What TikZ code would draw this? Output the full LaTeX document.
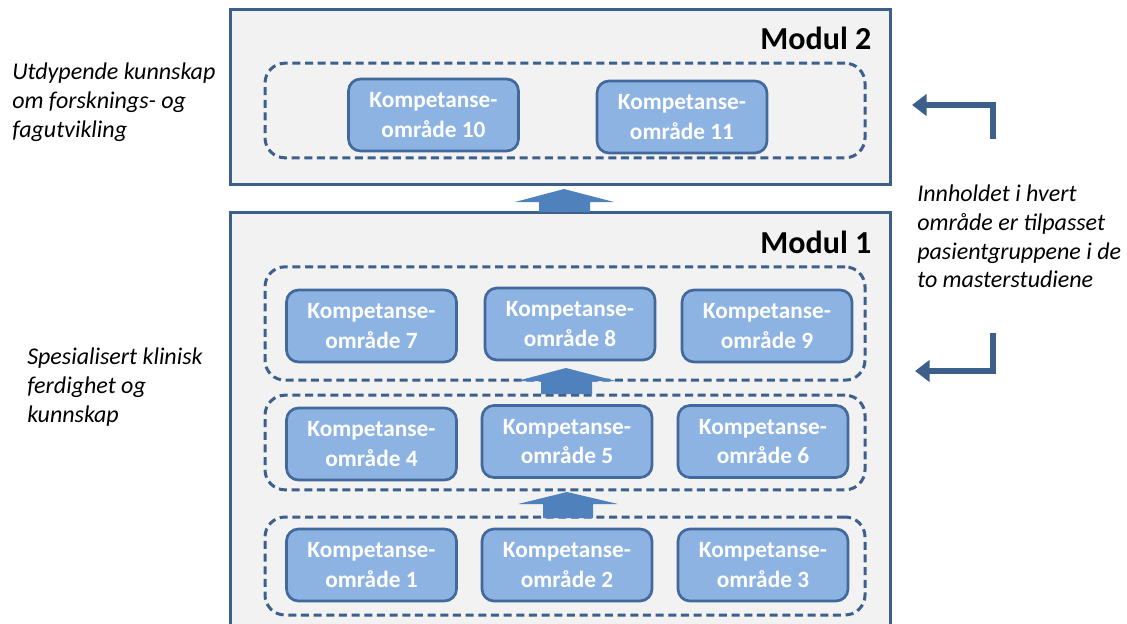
\documentclass[tikz,border=0pt]{standalone}
\usepackage{fontspec}
\setmainfont{Carlito}
\usetikzlibrary{arrows.meta}

\definecolor{ramme}{HTML}{3C5F8C}
\definecolor{feltblaa}{HTML}{8DB3E2}
\definecolor{kant}{HTML}{41699C}
\definecolor{pilblaa}{HTML}{4F81BD}
\definecolor{graa}{HTML}{F2F2F2}

\begin{document}
\begin{tikzpicture}[x=0.75pt, y=-0.75pt]
\tikzset{modul/.style = {rectangle, draw=ramme, line width=2.25pt, fill=graa, minimum width=495pt, inner sep=0pt},
  rad/.style = {rectangle, rounded corners=15pt, draw=ramme, line width=2.25pt, dash pattern=on 6pt off 3.5pt, minimum width=450pt, inner sep=0pt},
  omr/.style = {rectangle, rounded corners=9pt, draw=kant, line width=2pt, fill=feltblaa, minimum width=127.5pt, minimum height=54pt, inner sep=0pt, align=center, text=white, font=\fontsize{17.5}{22}\selectfont\bfseries},
  tittel/.style = {anchor=east, font=\fontsize{24}{28}\selectfont\bfseries},
  merknad/.style = {anchor=north west, align=left, inner sep=0pt, font=\fontsize{18}{21.5}\selectfont\itshape},
  blokkpil/.style = {fill=pilblaa},
  knekkpil/.style = {draw=ramme, line width=5pt, -{Triangle[width=16pt, length=11pt]}}}

\useasboundingbox (0,0) rectangle (1127,624);
\clip (0,0) rectangle (1127,624);

% moduler
\node (modul2) [modul, minimum height=130.5pt] at (560,97) {};
\node (modul1) [modul, minimum height=336pt] at (560,436) {};
\node (tittel2) [tittel] at (876,38) {Modul 2};
\node (tittel1) [tittel] at (876,242) {Modul 1};

% rader
\node (rad4) [rad, minimum height=71pt] at (565,110.5) {};
\node (rad3) [rad, minimum height=85pt] at (565,323.5) {};
\node (rad2) [rad, minimum height=71pt] at (565,442.5) {};
\node (rad1) [rad, minimum height=73.5pt] at (565,566) {};

% kompetanseomraader
\node (k10) [omr] at (433.5,115) {Kompetanse-\\område 10};
\node (k11) [omr] at (682,117) {Kompetanse-\\område 11};
\node (k7) [omr] at (371.5,326) {Kompetanse-\\område 7};
\node (k8) [omr] at (570,324) {Kompetanse-\\område 8};
\node (k9) [omr] at (767,326) {Kompetanse-\\område 9};
\node (k4) [omr] at (371.5,444) {Kompetanse-\\område 4};
\node (k5) [omr] at (567,441.5) {Kompetanse-\\område 5};
\node (k6) [omr] at (763,441.5) {Kompetanse-\\område 6};
\node (k1) [omr] at (371.5,565) {Kompetanse-\\område 1};
\node (k2) [omr] at (567,565) {Kompetanse-\\område 2};
\node (k3) [omr] at (763,565) {Kompetanse-\\område 3};

% blokkpiler
\fill [blokkpil] (564,189) -- (614,202) -- (590,202) -- (590,212) -- (539,212) -- (539,202) -- (515,202) -- cycle;
\fill [blokkpil] (566,368) -- (616,381) -- (592,381) -- (592,394) -- (541,394) -- (541,381) -- (517,381) -- cycle;
\fill [blokkpil] (567,492) -- (618,504) -- (593,504) -- (593,518) -- (543,518) -- (543,504) -- (518,504) -- cycle;

% merknader
\node (tekst2) [merknad] at (12,63) {Utdypende kunnskap\\om forsknings- og\\fagutvikling};
\node (tekst1) [merknad] at (27,348) {Spesialisert klinisk\\ferdighet og\\kunnskap};
\node (tekst3) [merknad] at (917,185) {Innholdet i hvert\\område er tilpasset\\pasientgruppene i de\\to masterstudiene};

% knekkpiler
\coordinate (p1) at (993,139);
\coordinate (q1) at (912,105);
\coordinate (p2) at (993,333);
\coordinate (q2) at (915,371);
\draw [knekkpil] (p1) |- (q1);
\draw [knekkpil] (p2) |- (q2);

\end{tikzpicture}
\end{document}
